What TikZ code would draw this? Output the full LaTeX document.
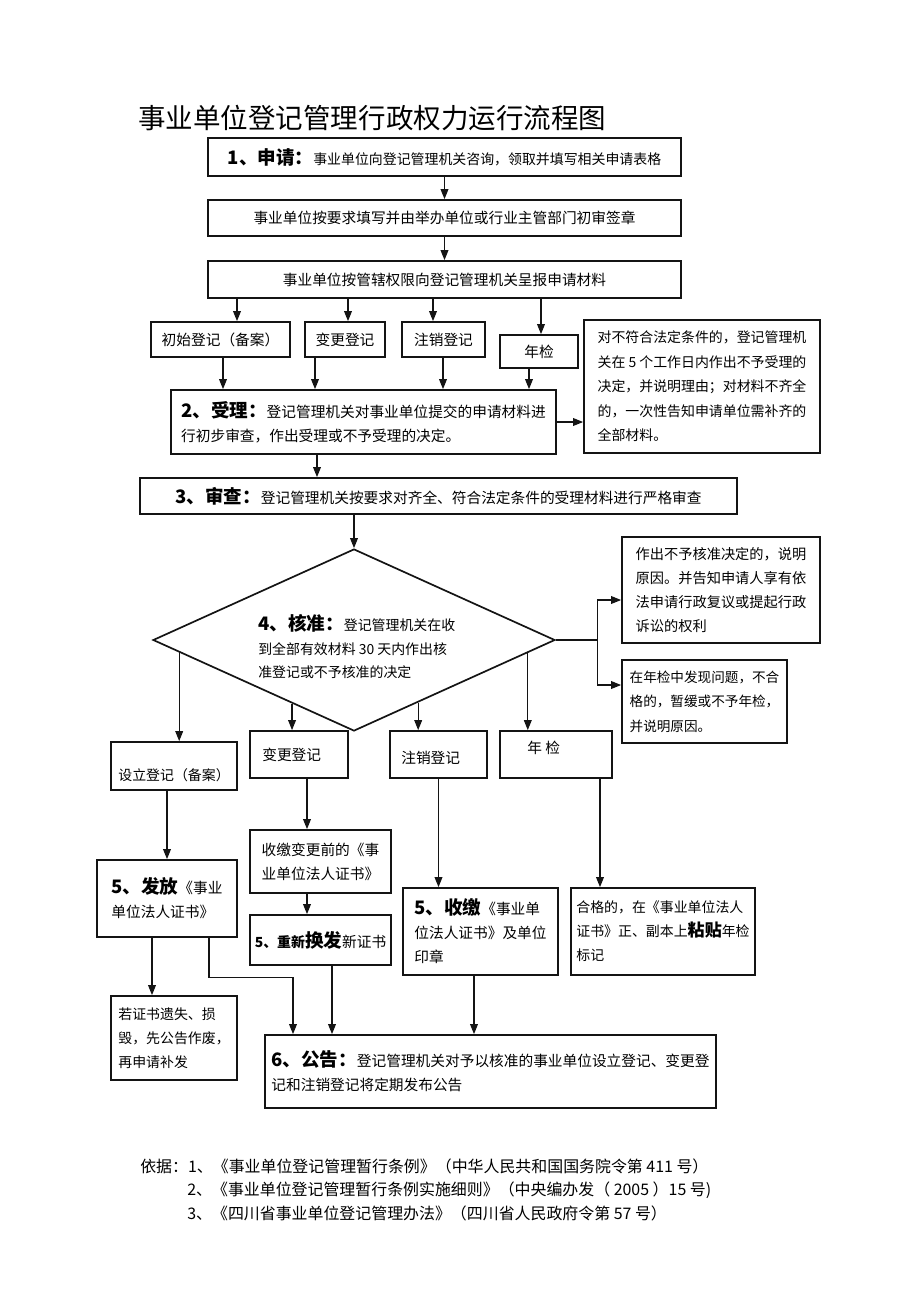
\documentclass[tikz,border=0pt]{standalone}
\usepackage{fontspec}
\setmainfont{Noto Sans CJK SC}
\usepackage{tikz}
\usetikzlibrary{arrows.meta, positioning, shapes.geometric, calc}
\definecolor{boxcolor}{RGB}{20,20,20}
\newcommand{\pxu}{0.6467pt}
\newcommand{\hd}[1]{{\fontsize{12}{15}\selectfont\bfseries #1}}

\begin{document}
\begin{tikzpicture}[x=0.6467pt, y=-0.6467pt,
    box/.style={draw=boxcolor, line width=1.1pt, inner sep=0pt, align=left, font=\fontsize{9.5}{15.5}\selectfont},
    txt/.style={inner sep=0pt, align=left, font=\fontsize{9.5}{15.5}\selectfont},
    arr/.style={draw=boxcolor, line width=0.8pt, -{Triangle[length=6.5pt,width=5pt]}},
    ln/.style={draw=boxcolor, line width=0.8pt}]
    \useasboundingbox (0,0) rectangle (920,1302);

    % Title
    \node[txt, anchor=west, font=\fontsize{17.8}{20}\selectfont] (title) at (138,118) {事业单位登记管理行政权力运行流程图};

    % 1 apply
    \node[box, minimum width=473*\pxu, minimum height=38*\pxu, font=\fontsize{9}{15}\selectfont] (apply) at (444.5,157) {\hd{1、申请：}事业单位向登记管理机关咨询，领取并填写相关申请表格};
    \node[box, minimum width=473*\pxu, minimum height=36*\pxu] (sign) at (444.5,218) {事业单位按要求填写并由举办单位或行业主管部门初审签章};
    \node[box, minimum width=473*\pxu, minimum height=37*\pxu] (submit) at (444.5,279.5) {事业单位按管辖权限向登记管理机关呈报申请材料};

    % Four kinds
    \node[box, minimum width=139*\pxu, minimum height=35*\pxu] (kindA) at (220.5,339.5) {初始登记（备案）};
    \node[box, minimum width=80*\pxu, minimum height=35*\pxu] (kindB) at (345,339.5) {变更登记};
    \node[box, minimum width=83*\pxu, minimum height=35*\pxu] (kindC) at (443.5,339.5) {注销登记};
    \node[box, minimum width=78*\pxu, minimum height=33*\pxu] (kindD) at (539,351.5) {年检};

    \node[box, minimum width=236*\pxu, minimum height=133*\pxu, font=\fontsize{9}{15.8}\selectfont] (refuse) at (702,386.5) {对不符合法定条件的，登记管理机\\关在 5 个工作日内作出不予受理的\\决定，并说明理由；对材料不齐全\\的，一次性告知申请单位需补齐的\\全部材料。};

    % 2 accept, 3 review
    \node[box, minimum width=385*\pxu, minimum height=64*\pxu] (accept) at (363.5,422) {\hd{2、受理：}登记管理机关对事业单位提交的申请材料进\\行初步审查，作出受理或不予受理的决定。};
    \node[box, minimum width=597*\pxu, minimum height=36*\pxu] (review) at (438.5,496) {\hd{3、审查：}登记管理机关按要求对齐全、符合法定条件的受理材料进行严格审查};

    % 4 approve
    \node[draw=boxcolor, line width=1.1pt, diamond, inner sep=0pt, minimum width=402*\pxu, minimum height=182*\pxu] (check) at (354,640) {};
    \node[txt, anchor=west, font=\fontsize{9}{15.2}\selectfont] (checktext) at (258,647) {\hd{4、核准：}登记管理机关在收\\到全部有效材料 30 天内作出核\\准登记或不予核准的决定};

    \node[box, minimum width=198*\pxu, minimum height=106*\pxu, font=\fontsize{9.2}{15.7}\selectfont] (deny) at (721,590) {作出不予核准决定的，说明\\原因。并告知申请人享有依\\法申请行政复议或提起行政\\诉讼的权利};
    \node[box, minimum width=165*\pxu, minimum height=83*\pxu, font=\fontsize{8.8}{15.8}\selectfont] (fail) at (704.5,701.5) {在年检中发现问题，不合\\格的，暂缓或不予年检，\\并说明原因。};

    % Bottom row
    \node[box, minimum width=126*\pxu, minimum height=48*\pxu] (setup) at (174,766) {};
    \node[txt, font=\fontsize{9}{15}\selectfont] (setuptext) at (174,775) {设立登记（备案）};
    \node[box, minimum width=98*\pxu, minimum height=47*\pxu] (change) at (299,754.5) {};
    \node[txt, anchor=west] (changetext) at (262,755) {变更登记};
    \node[box, minimum width=97*\pxu, minimum height=47*\pxu] (cancel) at (438.5,754.5) {};
    \node[txt, anchor=west] (canceltext) at (401,758) {注销登记};
    \node[box, minimum width=112*\pxu, minimum height=47*\pxu] (annual) at (556,754.5) {};
    \node[txt, anchor=west] (annualtext) at (527,748) {年\ 检};

    % 5
    \node[box, minimum width=140*\pxu, minimum height=77*\pxu] (issue) at (167,898.5) {\hd{5、发放}《事业\\单位法人证书》};
    \node[box, minimum width=141*\pxu, minimum height=63*\pxu] (collect) at (320.5,861.5) {收缴变更前的《事\\业单位法人证书》};
    \node[box, minimum width=141*\pxu, minimum height=50*\pxu] (reissue) at (320.5,940) {{\fontsize{9}{15}\selectfont\bfseries 5、重新}\hd{换发}新证书};
    \node[box, minimum width=155*\pxu, minimum height=87*\pxu] (seize) at (480.5,931.5) {\hd{5、收缴}《事业单\\位法人证书》及单位\\印章};
    \node[box, minimum width=184*\pxu, minimum height=87*\pxu, font=\fontsize{9}{15.5}\selectfont] (stick) at (663,931.5) {合格的，在《事业单位法人\\证书》正、副本上{\fontsize{11}{15}\selectfont\bfseries 粘贴}年检\\标记};
    \node[box, minimum width=126*\pxu, minimum height=84*\pxu, font=\fontsize{9}{15.5}\selectfont] (lost) at (174,1038) {若证书遗失、损\\毁，先公告作废，\\再申请补发};

    % 6 notice
    \node[box, minimum width=451*\pxu, minimum height=73*\pxu] (notice) at (490.5,1071.5) {\hd{6、公告：}登记管理机关对予以核准的事业单位设立登记、变更登\\记和注销登记将定期发布公告};

    % Basis
    \node[txt, anchor=west, font=\fontsize{10.3}{14}\selectfont] (basis1) at (140,1166) {依据：1、《事业单位登记管理暂行条例》（中华人民共和国国务院令第 411 号）};
    \node[txt, anchor=west, font=\fontsize{10.3}{14}\selectfont] (basis2) at (187,1190) {2、《事业单位登记管理暂行条例实施细则》（中央编办发（ 2005 ）15 号)};
    \node[txt, anchor=west, font=\fontsize{10.3}{14}\selectfont] (basis3) at (187,1213) {3、《四川省事业单位登记管理办法》（四川省人民政府令第 57 号）};

    % Connectors, top part
    \draw[arr] (apply) -- (sign);
    \draw[arr] (sign) -- (submit);
    \foreach \k/\dx in {kindA/16.5, kindB/3, kindC/-10.5, kindD/2} {
        \coordinate (in\k) at ($(\k.north)+(\dx,0)$);
        \draw[arr] (submit.south -| in\k) -- (in\k);
    }
    \foreach \k/\dx in {kindA/2.5, kindB/-30, kindC/-0.5, kindD/-10} {
        \coordinate (out\k) at ($(\k.south)+(\dx,0)$);
        \draw[arr] (out\k) -- (out\k |- accept.north);
    }
    \draw[arr] (accept.east) -- (accept.east -| refuse.west);
    \coordinate (acceptout) at ($(accept.south)+(-46.5,0)$);
    \draw[arr] (acceptout) -- (acceptout |- review.north);
    \draw[arr] (review.south -| check.north) -- (check.north);

    % Right branch
    \coordinate (fork) at ($(check.east)+(42,0)$);
    \draw[ln] (check.east) -- (fork);
    \draw[arr] (fork) |- ($(deny.west)+(0,10)$);
    \draw[arr] (fork) |- ($(fail.west)+(0,-16.5)$);

    % Diamond down to the four results
    \coordinate (dropA) at ($(check.west)!0.134!(check.south)$);
    \coordinate (dropB) at ($(check.west)!0.693!(check.south)$);
    \coordinate (dropC) at ($(check.south)!0.318!(check.east)$);
    \coordinate (dropD) at ($(check.south)!0.861!(check.east)$);
    \draw[arr] (dropA) -- (dropA |- setup.north);
    \draw[arr] (dropB) -- (dropB |- change.north);
    \draw[arr] (dropC) -- (dropC |- cancel.north);
    \draw[arr] (dropD) -- (dropD |- annual.north);

    % Down to step 5
    \draw[arr] (setup.south -| issue.north) -- (issue.north);
    \coordinate (chgline) at ($(collect.north)+(-13.5,0)$);
    \draw[arr] (change.south -| chgline) -- (chgline);
    \draw[arr] (collect.south -| chgline) -- (reissue.north -| chgline);
    \draw[arr] (cancel.south) -- (cancel.south |- seize.north);
    \coordinate (annline) at ($(stick.north)+(-63,0)$);
    \draw[arr] (annual.south -| annline) -- (annline);

    % Down to notice
    \coordinate (issueA) at ($(issue.south)+(-15,0)$);
    \draw[arr] (issueA) -- (issueA |- lost.north);
    \coordinate (issueB) at ($(issue.south)+(42,0)$);
    \coordinate (bend) at ($(issueB)+(84,40)$);
    \draw[arr] (issueB) -- (issueB |- bend) -- (bend) -- (bend |- notice.north);
    \coordinate (reissueout) at ($(reissue.south)+(11.5,0)$);
    \draw[arr] (reissueout) -- (reissueout |- notice.north);
    \coordinate (seizeout) at ($(seize.south)+(-6.5,0)$);
    \draw[arr] (seizeout) -- (seizeout |- notice.north);
\end{tikzpicture}
\end{document}
